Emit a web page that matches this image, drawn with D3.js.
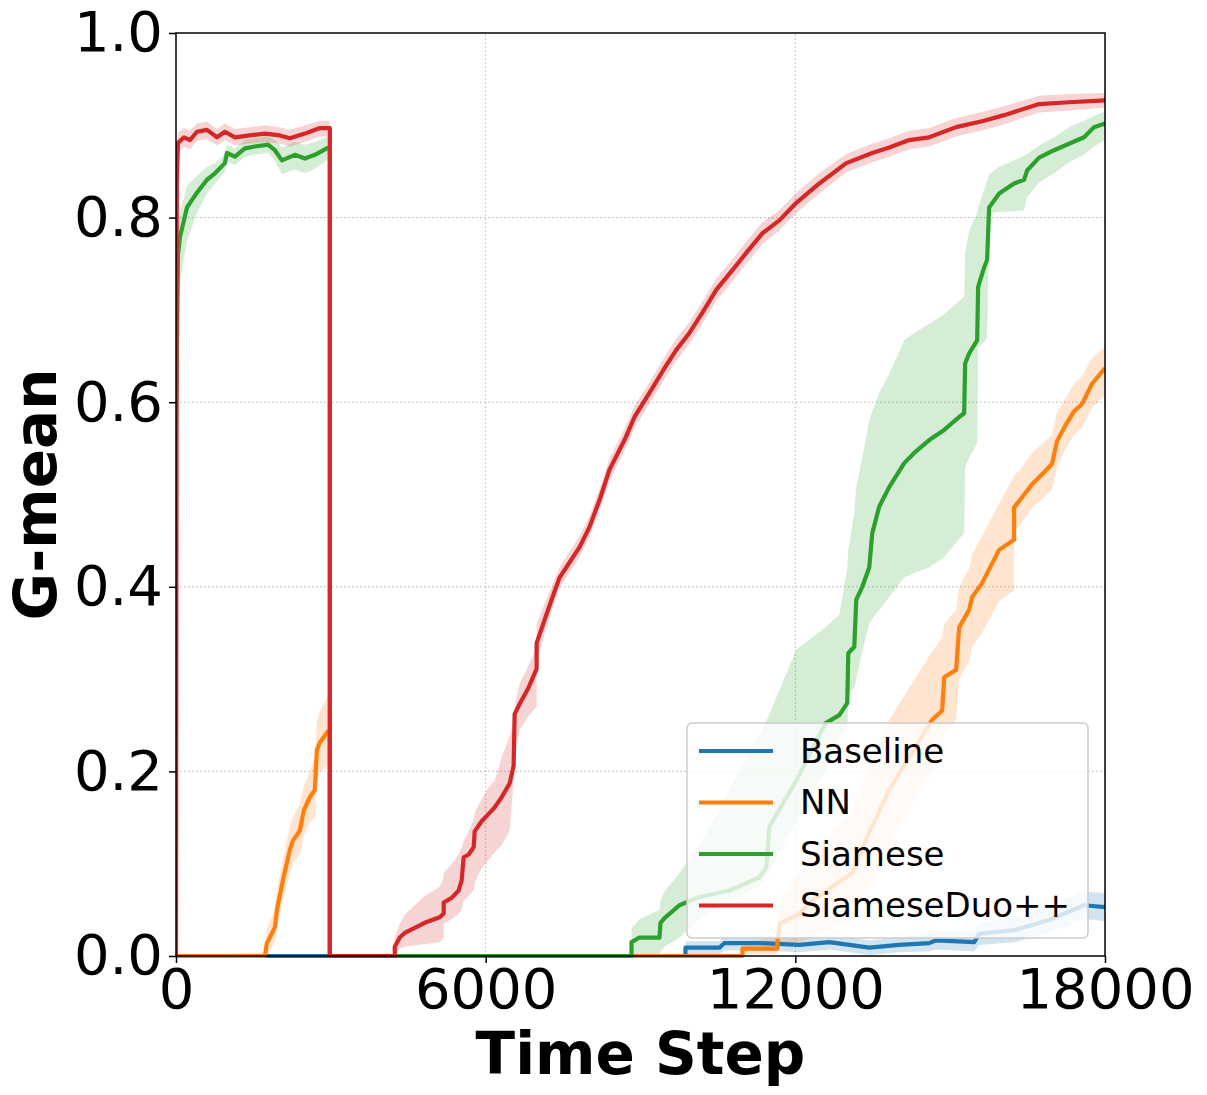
<!DOCTYPE html>
<html>
<head>
<meta charset="utf-8">
<script src="https://cdn.jsdelivr.net/npm/d3@7"></script>
<style>
  body { margin: 0; background: #fff; }
  svg { font-family: "DejaVu Sans", sans-serif; }
</style>
</head>
<body>
<svg id="chart" width="1207" height="1095"></svg>
<script>
// rows are [time step, mean, lower band, upper band]
const baseline = [
  [0, 0, 0, 0], [9871, 0, 0, 0], [9871, 0.009, 0.002, 0.016], [10529, 0.009, 0.002, 0.016],
  [10626, 0.014, 0.006, 0.022], [11303, 0.014, 0.006, 0.022], [12077, 0.012, 0.004, 0.02],
  [12658, 0.015, 0.007, 0.023], [13432, 0.009, 0.001, 0.017], [14013, 0.012, 0.004, 0.02],
  [14594, 0.014, 0.005, 0.024], [14729, 0.017, 0.007, 0.027], [15465, 0.015, 0.005, 0.027],
  [15561, 0.024, 0.012, 0.036], [16239, 0.028, 0.015, 0.042], [16916, 0.039, 0.025, 0.054],
  [17594, 0.055, 0.04, 0.07], [18000, 0.053, 0.038, 0.068]
];

const nn = [
  [0, 0, 0, 0], [1723, 0, 0, 0.004], [1761, 0.014, 0.002, 0.03], [1819, 0.02, 0.006, 0.038],
  [1916, 0.031, 0.015, 0.05], [1955, 0.05, 0.03, 0.072], [2071, 0.082, 0.06, 0.105],
  [2206, 0.115, 0.09, 0.14], [2265, 0.125, 0.1, 0.15], [2400, 0.136, 0.11, 0.165],
  [2477, 0.158, 0.13, 0.185], [2594, 0.172, 0.145, 0.2], [2690, 0.18, 0.15, 0.215],
  [2729, 0.223, 0.19, 0.255], [2787, 0.231, 0.2, 0.265], [2923, 0.242, 0.205, 0.28],
  [2981, 0.245, 0.205, 0.288], [2981, 0, 0, 0], [10974, 0, 0, 0],
  [10974, 0.008, 0.002, 0.015], [11652, 0.008, 0.002, 0.02], [11652, 0.015, 0.005, 0.035],
  [11700, 0.035, 0.01, 0.06], [12077, 0.046, 0.015, 0.09], [12329, 0.06, 0.02, 0.11],
  [13103, 0.09, 0.04, 0.16], [13400, 0.13, 0.07, 0.2], [13819, 0.18, 0.12, 0.256],
  [14200, 0.215, 0.16, 0.29], [14652, 0.256, 0.2, 0.33], [14845, 0.266, 0.215, 0.345],
  [14884, 0.302, 0.24, 0.36], [15116, 0.31, 0.256, 0.375], [15174, 0.356, 0.3, 0.4],
  [15368, 0.375, 0.32, 0.42], [15426, 0.389, 0.335, 0.435], [15619, 0.404, 0.35, 0.455],
  [15948, 0.44, 0.385, 0.49], [16239, 0.451, 0.396, 0.52], [16239, 0.486, 0.46, 0.52],
  [16394, 0.497, 0.47, 0.53], [16587, 0.511, 0.485, 0.545], [16781, 0.522, 0.495, 0.555],
  [16974, 0.533, 0.505, 0.565], [17071, 0.558, 0.53, 0.59], [17245, 0.576, 0.55, 0.605],
  [17400, 0.59, 0.565, 0.62], [17555, 0.598, 0.572, 0.628], [17749, 0.62, 0.594, 0.648],
  [18000, 0.637, 0.608, 0.66]
];

const siamese = [
  [0, 0.58, 0.56, 0.6], [39, 0.76, 0.7, 0.79], [77, 0.779, 0.73, 0.805], [213, 0.811, 0.775, 0.835],
  [406, 0.827, 0.805, 0.845], [600, 0.841, 0.826, 0.855], [755, 0.848, 0.837, 0.859],
  [948, 0.859, 0.849, 0.869], [987, 0.87, 0.861, 0.879], [1142, 0.866, 0.857, 0.875],
  [1335, 0.875, 0.866, 0.884], [1529, 0.877, 0.868, 0.886], [1781, 0.879, 0.87, 0.888],
  [1916, 0.873, 0.862, 0.884], [2052, 0.862, 0.847, 0.876], [2303, 0.868, 0.852, 0.882],
  [2497, 0.864, 0.848, 0.879], [2690, 0.868, 0.853, 0.882], [2923, 0.875, 0.862, 0.887],
  [2981, 0.876, 0.864, 0.888], [2981, 0, 0, 0], [8826, 0, 0, 0], [8826, 0.015, 0, 0.03],
  [8981, 0.02, 0, 0.04], [9368, 0.02, 0, 0.05], [9387, 0.036, 0.005, 0.06],
  [9465, 0.041, 0.01, 0.07], [9755, 0.055, 0.02, 0.09], [10142, 0.064, 0.04, 0.12],
  [10723, 0.071, 0.06, 0.18], [11303, 0.085, 0.075, 0.24], [11439, 0.096, 0.085, 0.255],
  [11497, 0.14, 0.09, 0.262], [12019, 0.19, 0.146, 0.332], [12581, 0.252, 0.2, 0.356],
  [12852, 0.261, 0.235, 0.37], [13006, 0.274, 0.25, 0.42], [13026, 0.328, 0.285, 0.44],
  [13142, 0.335, 0.29, 0.48], [13181, 0.386, 0.3, 0.508], [13297, 0.4, 0.33, 0.54],
  [13432, 0.421, 0.36, 0.58], [13490, 0.458, 0.365, 0.59], [13626, 0.487, 0.375, 0.61],
  [13819, 0.508, 0.389, 0.631], [14110, 0.534, 0.41, 0.667], [14303, 0.545, 0.415, 0.675],
  [14594, 0.559, 0.421, 0.685], [14884, 0.57, 0.432, 0.695], [15174, 0.584, 0.452, 0.71],
  [15271, 0.588, 0.458, 0.714], [15290, 0.642, 0.53, 0.761], [15368, 0.653, 0.54, 0.786],
  [15523, 0.667, 0.555, 0.805], [15542, 0.725, 0.659, 0.811], [15658, 0.746, 0.665, 0.83],
  [15716, 0.754, 0.67, 0.84], [15755, 0.811, 0.805, 0.847], [15948, 0.826, 0.806, 0.855],
  [16239, 0.837, 0.807, 0.862], [16432, 0.841, 0.808, 0.867], [16490, 0.851, 0.822, 0.869],
  [16723, 0.865, 0.838, 0.878], [17013, 0.873, 0.848, 0.887], [17303, 0.88, 0.86, 0.898],
  [17594, 0.887, 0.868, 0.905], [17787, 0.898, 0.877, 0.91], [18000, 0.902, 0.884, 0.915]
];

const siameseDuo = [
  [0, 0, 0, 0], [15, 0.84, 0.8, 0.86], [39, 0.881, 0.87, 0.892], [155, 0.887, 0.877, 0.897],
  [271, 0.884, 0.874, 0.894], [406, 0.893, 0.883, 0.902], [600, 0.895, 0.885, 0.904],
  [794, 0.887, 0.878, 0.896], [948, 0.893, 0.884, 0.902], [1142, 0.887, 0.878, 0.896],
  [1432, 0.889, 0.88, 0.898], [1723, 0.891, 0.882, 0.9], [2013, 0.889, 0.88, 0.898],
  [2206, 0.886, 0.877, 0.895], [2497, 0.891, 0.882, 0.9], [2787, 0.897, 0.888, 0.905],
  [2981, 0.897, 0.888, 0.905], [2981, 0, 0, 0], [4239, 0, 0, 0], [4239, 0.01, 0.003, 0.02],
  [4335, 0.02, 0.008, 0.035], [4432, 0.025, 0.01, 0.045], [4819, 0.036, 0.013, 0.065],
  [5110, 0.042, 0.015, 0.075], [5187, 0.046, 0.02, 0.085], [5187, 0.058, 0.035, 0.09],
  [5342, 0.063, 0.04, 0.1], [5477, 0.071, 0.045, 0.11], [5535, 0.082, 0.05, 0.118],
  [5574, 0.107, 0.06, 0.125], [5671, 0.11, 0.065, 0.135], [5768, 0.118, 0.071, 0.148],
  [5787, 0.135, 0.08, 0.155], [5923, 0.146, 0.095, 0.17], [6058, 0.154, 0.104, 0.183],
  [6174, 0.161, 0.112, 0.19], [6310, 0.172, 0.12, 0.215], [6465, 0.187, 0.136, 0.238],
  [6542, 0.206, 0.19, 0.255], [6561, 0.262, 0.22, 0.27], [6658, 0.273, 0.245, 0.295],
  [6832, 0.291, 0.26, 0.315], [6987, 0.311, 0.27, 0.335], [6987, 0.339, 0.32, 0.36],
  [7277, 0.386, 0.374, 0.4], [7432, 0.41, 0.399, 0.421], [7819, 0.443, 0.432, 0.455],
  [8013, 0.465, 0.454, 0.477], [8206, 0.494, 0.483, 0.506], [8400, 0.527, 0.515, 0.539],
  [8690, 0.559, 0.547, 0.571], [8884, 0.584, 0.572, 0.596], [9174, 0.61, 0.598, 0.622],
  [9465, 0.637, 0.625, 0.649], [9697, 0.657, 0.645, 0.669], [9948, 0.675, 0.663, 0.687],
  [10200, 0.697, 0.685, 0.709], [10471, 0.722, 0.71, 0.734], [10781, 0.743, 0.731, 0.755],
  [11052, 0.762, 0.75, 0.774], [11361, 0.783, 0.771, 0.795], [11690, 0.797, 0.786, 0.808],
  [12019, 0.816, 0.805, 0.827], [12465, 0.837, 0.826, 0.848], [12987, 0.859, 0.849, 0.869],
  [13490, 0.87, 0.86, 0.88], [13819, 0.876, 0.866, 0.886], [14206, 0.884, 0.874, 0.894],
  [14594, 0.887, 0.877, 0.897], [15116, 0.898, 0.888, 0.908], [15658, 0.905, 0.895, 0.915],
  [16045, 0.911, 0.901, 0.921], [16723, 0.923, 0.914, 0.932], [17303, 0.925, 0.916, 0.934],
  [18000, 0.927, 0.919, 0.935]
];

const seriesNames = ["Baseline", "NN", "Siamese", "SiameseDuo++"];
const seriesData = [baseline, nn, siamese, siameseDuo];
const colors = ["#1f77b4", "#ff7f0e", "#2ca02c", "#d62728"];
const xTicks = [0, 6000, 12000, 18000];
const yTicks = [0, 0.2, 0.4, 0.6, 0.8, 1.0];

const svg = d3.select("#chart");
const margin = { top: 33, right: 102, bottom: 139, left: 176 };
const width = 1207, height = 1095;

const x = d3.scaleLinear().domain([0, 18000]).range([margin.left, width - margin.right]);
const y = d3.scaleLinear().domain([0, 1]).range([height - margin.bottom, margin.top]);

svg.append("defs").append("clipPath").attr("id", "plot")
  .append("rect")
  .attr("x", margin.left).attr("y", margin.top - 2)
  .attr("width", x(18000) - x(0)).attr("height", y(0) - y(1) + 4);

// grid
const grid = svg.append("g");
grid.selectAll(".gx").data(xTicks.slice(1, -1)).join("line")
  .attr("x1", d => x(d)).attr("x2", d => x(d))
  .attr("y1", y(0)).attr("y2", y(1))
  .attr("stroke", "#b0b0b0").attr("stroke-width", 1).attr("stroke-dasharray", "1.5,2.5");
grid.selectAll(".gy").data(yTicks.slice(1, -1)).join("line")
  .attr("x1", x(0)).attr("x2", x(18000))
  .attr("y1", d => y(d)).attr("y2", d => y(d))
  .attr("stroke", "#b0b0b0").attr("stroke-width", 1).attr("stroke-dasharray", "1.5,2.5");

const plot = svg.append("g").attr("clip-path", "url(#plot)");

const area = d3.area().x(d => x(d[0])).y0(d => y(d[2])).y1(d => y(d[3]));
const line = d3.line().x(d => x(d[0])).y(d => y(d[1]));

seriesData.forEach((s, i) => {
  plot.append("path").datum(s).attr("d", area)
    .attr("fill", colors[i]).attr("fill-opacity", 0.2);
});
seriesData.forEach((s, i) => {
  plot.append("path").datum(s).attr("d", line)
    .attr("fill", "none").attr("stroke", colors[i]).attr("stroke-width", 4.2)
    .attr("stroke-linejoin", "round");
});

// axes
const xAxis = svg.append("g")
  .attr("transform", `translate(0,${y(0)})`)
  .call(d3.axisBottom(x).tickValues(xTicks).tickFormat(d3.format("d")).tickSize(7).tickPadding(5));
const yAxis = svg.append("g")
  .attr("transform", `translate(${x(0)},0)`)
  .call(d3.axisLeft(y).tickValues(yTicks).tickFormat(d3.format(".1f")).tickSize(7).tickPadding(6));

[xAxis, yAxis].forEach(g => {
  g.select(".domain").remove();
  g.selectAll("line").attr("stroke", "#000").attr("stroke-width", 1.5);
  g.selectAll("text").attr("font-family", "DejaVu Sans").attr("font-size", 56).attr("fill", "#000");
});

// frame
svg.append("rect")
  .attr("x", x(0)).attr("y", y(1))
  .attr("width", x(18000) - x(0)).attr("height", y(0) - y(1))
  .attr("fill", "none").attr("stroke", "#000").attr("stroke-width", 1.5);

svg.append("text")
  .attr("x", (x(0) + x(18000)) / 2).attr("y", 1074)
  .attr("text-anchor", "middle")
  .attr("font-size", 58).attr("font-weight", "bold")
  .text("Time Step");

svg.append("text")
  .attr("transform", `translate(56,${(y(0) + y(1)) / 2}) rotate(-90)`)
  .attr("text-anchor", "middle")
  .attr("font-size", 58).attr("font-weight", "bold")
  .text("G-mean");

// legend
const legend = svg.append("g");
legend.append("rect")
  .attr("x", 687).attr("y", 723).attr("width", 401).attr("height", 215)
  .attr("rx", 5).attr("fill", "#fff").attr("fill-opacity", 0.8)
  .attr("stroke", "#cccccc").attr("stroke-width", 1.5);

const rows = legend.selectAll(".item").data(seriesNames).join("g")
  .attr("transform", (d, i) => `translate(0,${751 + i * 51.5})`);
rows.append("line")
  .attr("x1", 699).attr("x2", 773)
  .attr("stroke", (d, i) => colors[i]).attr("stroke-width", 4);
rows.append("text")
  .attr("x", 800).attr("dy", "0.35em")
  .attr("font-size", 34)
  .text(d => d);
</script>
</body>
</html>
